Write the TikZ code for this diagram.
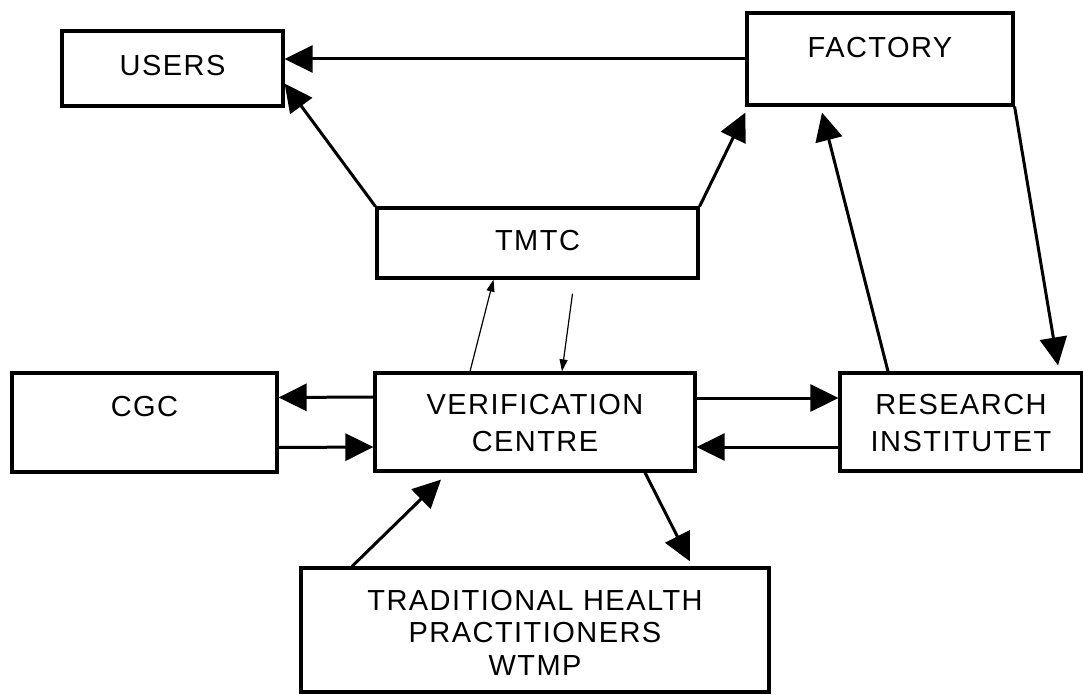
\documentclass[tikz,border=0pt]{standalone}
\usepackage{fontspec}
\setmainfont[LetterSpace=5]{Liberation Sans}
\usetikzlibrary{arrows.meta}

\begin{document}
\begin{tikzpicture}[x=1pt,y=-1pt,
  box/.style={draw, line width=3.2pt, rectangle, inner sep=0pt, align=center,
    font=\fontsize{29pt}{37pt}\selectfont, text height=21pt, text depth=0pt},
  conn/.style={line width=3pt, -{Triangle[length=28pt,width=27pt]}},
  thinconn/.style={line width=1.2pt, -{Triangle[length=12pt,width=8pt]}}]
\useasboundingbox (0,0) rectangle (1083,695);
\node[box, minimum width=221pt, minimum height=75pt, text depth=7pt] (users) at (172.5,68.5) {USERS};
\node[box, minimum width=266pt, minimum height=92pt, text depth=24pt] (factory) at (880,59) {FACTORY};
\node[box, minimum width=321pt, minimum height=70pt, text depth=6pt] (tmtc) at (537.5,243) {TMTC};
\node[box, minimum width=265pt, minimum height=99pt, text depth=33pt] (cgc) at (144.5,422.5) {CGC};
\node[box, minimum width=320pt, minimum height=98pt, text height=58pt] (vc) at (535,422) {VERIFICATION\\CENTRE};
\node[box, minimum width=242pt, minimum height=98pt, text height=58pt] (research) at (961,422) {RESEARCH\\INSTITUTET};
\node[box, minimum width=468pt, minimum height=124pt, text height=90pt,
  font=\fontsize{29pt}{32.5pt}\selectfont] (trad) at (535,630) {TRADITIONAL HEALTH\\PRACTITIONERS\\WTMP};
\draw[conn] (factory.west) -- (factory.west -| users.east);
\draw[conn] (tmtc.north west) -- ([yshift=-15pt]users.east);
\draw[conn] (tmtc.north east) -- ([yshift=-6pt]factory.south west);
\draw[conn] ([xshift=-73pt]research.north) -- ([xshift=-58pt,yshift=-6pt]factory.south);
\draw[conn] (factory.south east) -- ([xshift=97pt,yshift=6pt]research.north);
\draw[conn] ([yshift=25pt]vc.west) -- ([yshift=25pt]cgc.east);
\draw[conn] ([yshift=-25pt]cgc.east) -- ([yshift=-25pt]vc.west);
\draw[conn] ([yshift=24pt]vc.east) -- ([yshift=24pt]research.west);
\draw[conn] ([yshift=-25pt]research.west) -- ([yshift=-25pt]vc.east);
\draw[thinconn] ([xshift=-65pt]vc.north) -- ([xshift=-44pt]tmtc.south);
\draw[thinconn] ([xshift=35pt,yshift=-14pt]tmtc.south) -- ([xshift=27pt]vc.north);
\draw[conn] ([xshift=-183pt]trad.north) -- ([xshift=-94pt,yshift=-7pt]vc.south);
\draw[conn] ([xshift=110pt]vc.south) -- ([xshift=155pt,yshift=5pt]trad.north);
\end{tikzpicture}
\end{document}
